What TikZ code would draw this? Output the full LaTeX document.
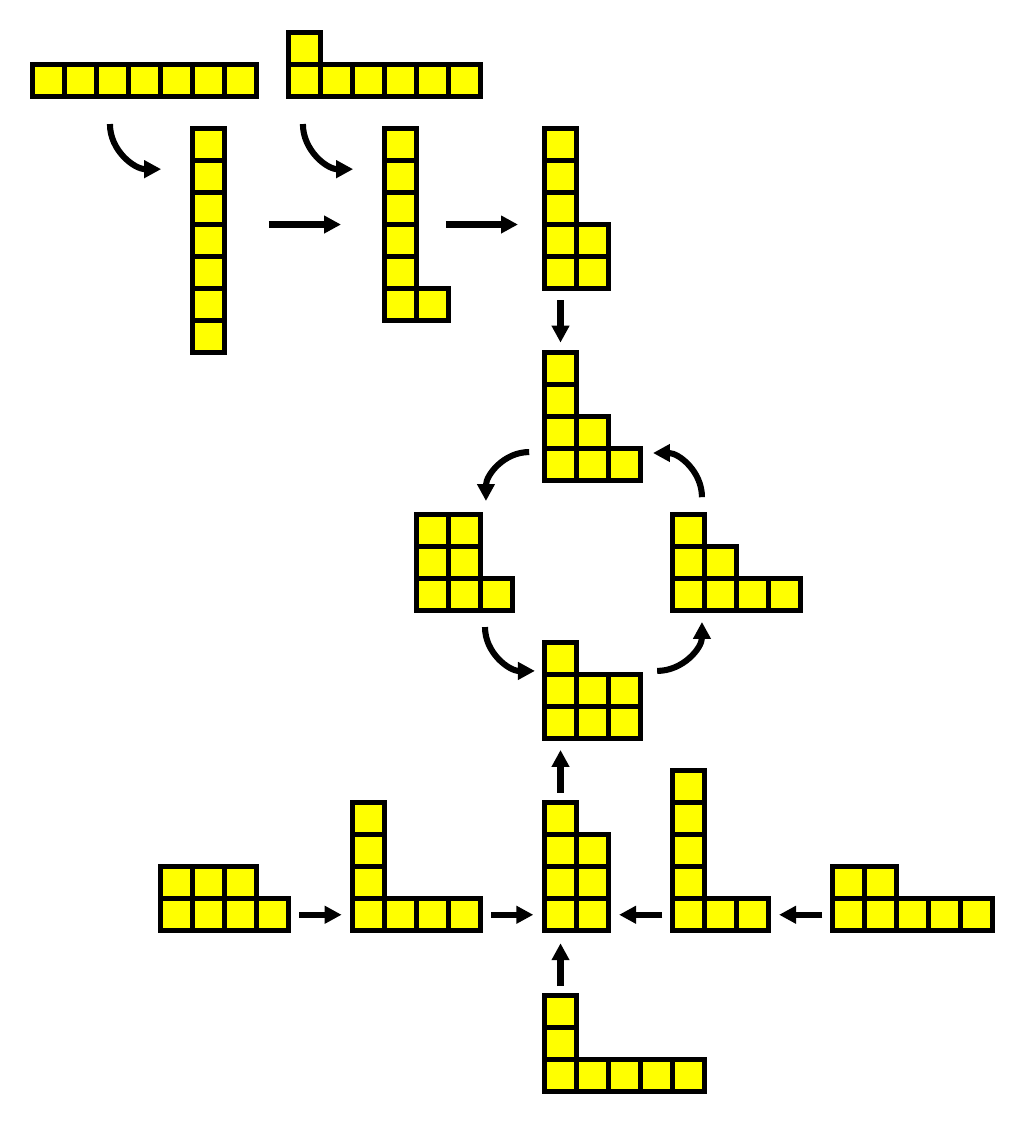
\documentclass[tikz,border=0pt]{standalone}
\usepackage[dvipsnames,svgnames]{xcolor}
\definecolor{amarilloCelda}{RGB}{255,255,0}
\usepackage{tikz}
\usetikzlibrary{arrows.meta}

\tikzset{
  celda/.style={fill=amarilloCelda, draw=black, line width=0.156cm},
  flecha/.style={-{Triangle[length=0.53cm,width=0.53cm]}, line width=0.19cm},
}

% #1 esquina inferior izquierda, #2 filas (de abajo hacia arriba)
\newcommand{\diagrama}[2]{%
  \begin{scope}[shift={#1}]
    \foreach \largo [count=\fila from 0] in {#2}
      \foreach \col in {1,...,\largo}
        \draw[celda] (\col-1,\fila) rectangle ++(1,1);
  \end{scope}}

\begin{document}
\begin{tikzpicture}[scale=1.0]
  \useasboundingbox (-0.016,0.016) rectangle (32.047,-35.14);
  % Fila superior
  \diagrama{(1,-3)}{7}
  \diagrama{(9,-3)}{6,1}
  \diagrama{(6,-11)}{1,1,1,1,1,1,1}
  \diagrama{(12,-10)}{2,1,1,1,1,1}
  \diagrama{(17,-9)}{2,2,1,1,1}
  % Ciclo
  \diagrama{(17,-15)}{3,2,1,1}
  \diagrama{(13,-19.05)}{3,2,2}
  \diagrama{(21,-19.05)}{4,2,1}
  \diagrama{(17,-23.06)}{3,3,1}
  % Fila inferior
  \diagrama{(5,-29.07)}{4,3}
  \diagrama{(11,-29.07)}{4,1,1,1}
  \diagrama{(17,-29.07)}{2,2,2,1}
  \diagrama{(21,-29.07)}{3,1,1,1,1}
  \diagrama{(26,-29.07)}{5,2}
  \diagrama{(17,-34.1)}{5,1,1}
  % Extremos de las flechas
  \coordinate (s1) at (3.42,-3.86);   \coordinate (t1) at (5.02,-5.27);
  \coordinate (s2) at (9.45,-3.86);   \coordinate (t2) at (11.02,-5.27);
  \coordinate (s3) at (8.39,-7);      \coordinate (t3) at (10.64,-7);
  \coordinate (s4) at (13.92,-7);     \coordinate (t4) at (16.17,-7);
  \coordinate (s5) at (17.5,-9.36);   \coordinate (t5) at (17.5,-10.69);
  \coordinate (s6) at (16.52,-14.11); \coordinate (t6) at (15.17,-15.64);
  \coordinate (s7) at (21.92,-15.52); \coordinate (t7) at (20.39,-14.14);
  \coordinate (s8) at (15.14,-19.58); \coordinate (t8) at (16.7,-20.95);
  \coordinate (s9) at (20.52,-20.95); \coordinate (t9) at (21.92,-19.42);
  \coordinate (s10) at (17.5,-24.76); \coordinate (t10) at (17.5,-23.42);
  \coordinate (s11) at (9.33,-28.57); \coordinate (t11) at (10.66,-28.57);
  \coordinate (s12) at (15.33,-28.57);\coordinate (t12) at (16.65,-28.57);
  \coordinate (s13) at (20.68,-28.57);\coordinate (t13) at (19.33,-28.57);
  \coordinate (s14) at (25.68,-28.57);\coordinate (t14) at (24.33,-28.57);
  \coordinate (s15) at (17.5,-30.8);  \coordinate (t15) at (17.5,-29.46);
  % Flechas
  \draw[flecha] (s1) to[out=-90,in=180] (t1);
  \draw[flecha] (s2) to[out=-90,in=180] (t2);
  \draw[flecha] (s3) -- (t3);
  \draw[flecha] (s4) -- (t4);
  \draw[flecha] (s5) -- (t5);
  \draw[flecha] (s6) to[out=180,in=90] (t6);
  \draw[flecha] (s7) to[out=90,in=0] (t7);
  \draw[flecha] (s8) to[out=-90,in=180] (t8);
  \draw[flecha] (s9) to[out=0,in=-90] (t9);
  \draw[flecha] (s10) -- (t10);
  \draw[flecha] (s11) -- (t11);
  \draw[flecha] (s12) -- (t12);
  \draw[flecha] (s13) -- (t13);
  \draw[flecha] (s14) -- (t14);
  \draw[flecha] (s15) -- (t15);
\end{tikzpicture}
\end{document}
